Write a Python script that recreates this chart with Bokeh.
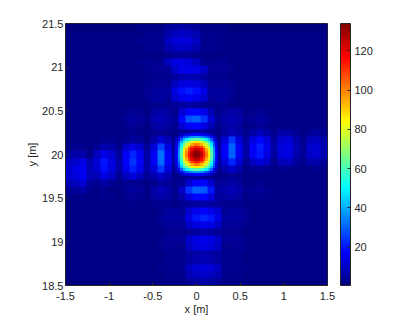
import numpy as np
from bokeh.embed import file_html
from bokeh.resources import INLINE
from bokeh.plotting import figure
from bokeh.models import LinearColorMapper, ColorBar, FixedTicker, CustomJS, InlineStyleSheet
from bokeh.events import DocumentReady

x_ticks = [-1.5, -1, -0.5, 0, 0.5, 1, 1.5]
x_labels = ["-1.5", "-1", "-0.5", "0", "0.5", "1", "1.5"]
y_ticks = [18.5, 19, 19.5, 20, 20.5, 21, 21.5]
y_labels = ["18.5", "19", "19.5", "20", "20.5", "21", "21.5"]
cbar_ticks = [20, 40, 60, 80, 100, 120]
x_range = (-1.5, 1.5)
y_range = (18.5, 21.5)
color_low = 0.5
color_high = 134

# Intensity, rows from y=21.5 down to y=18.5, columns x=-1.5..1.5
field_rows = [
 [1,1,1,1,1,1,1,1,1,1,2,2,2,2,4,5,6,5,4,2,2,2,2,1,1,1,1,1,1,1,1,1,1,1,1,1,1],
 [2,2,2,2,2,2,2,2,2,2,2,3,3,3,7,9,10,9,7,3,3,3,2,2,2,2,2,2,2,2,2,2,2,2,2,2,2],
 [2,2,2,2,2,2,2,2,2,2,3,3,3,3,9,12,13,12,9,3,3,3,3,2,2,2,2,2,2,2,2,2,2,2,2,2,2],
 [2,2,2,2,2,2,2,2,2,2,2,3,3,3,7,9,10,9,7,3,3,3,2,2,2,2,2,2,2,2,2,2,2,2,2,2,2],
 [2,2,2,2,2,2,2,2,2,2,2,2,2,2,3,4,4,4,3,2,2,2,2,2,2,2,2,2,2,2,2,2,2,2,2,2,2],
 [2,2,2,2,2,2,2,2,2,2,3,4,3,3,9,13,14,13,9,3,3,4,3,2,2,2,2,2,2,2,2,2,2,2,2,2,2],
 [2,2,2,2,2,2,2,2,2,2,2,3,4,4,4,10,14,15,14,10,4,4,4,3,2,2,2,2,2,2,2,2,2,2,2,2,2],
 [2,2,2,2,2,2,2,2,2,2,2,2,3,3,3,5,7,8,7,5,3,3,3,2,2,2,2,2,2,2,2,2,2,2,2,2,2],
 [2,2,2,2,2,2,2,2,2,2,2,3,4,4,4,9,13,14,13,9,4,4,4,3,2,2,2,2,2,2,2,2,2,2,2,2,2],
 [2,2,2,2,2,2,2,2,2,2,2,4,5,5,5,14,19,21,19,14,5,5,5,4,2,2,2,2,2,2,2,2,2,2,2,2,2],
 [2,2,2,2,2,2,2,2,2,2,2,3,5,5,4,11,15,17,15,11,4,5,5,3,2,2,2,2,2,2,2,2,2,2,2,2,2],
 [2,2,2,2,2,2,2,2,2,2,2,2,3,3,3,4,5,6,5,4,3,3,3,2,2,2,2,2,2,2,2,2,2,2,2,2,2],
 [2,2,2,2,2,2,2,2,3,4,3,2,5,6,5,3,11,17,18,15,8,3,5,6,5,2,3,4,3,2,2,2,2,2,2,2,2],
 [2,2,2,2,2,2,2,2,4,5,4,3,7,8,6,4,18,28,30,24,12,4,6,8,6,3,4,5,4,2,2,2,2,2,2,2,2],
 [2,2,2,2,2,2,2,2,3,4,3,2,5,6,5,3,11,16,18,14,8,3,5,6,5,2,3,4,3,2,2,2,2,2,2,2,2],
 [2,2,2,2,2,2,2,2,2,3,2,2,3,4,3,2,4,5,5,4,3,3,5,8,6,3,6,9,6,3,6,6,4,2,4,5,3],
 [2,2,2,2,2,3,3,2,3,5,4,2,6,12,8,3,30,60,70,60,30,6,13,24,12,5,14,18,13,5,11,12,7,3,8,9,6],
 [2,3,3,2,4,7,6,3,10,14,11,4,13,26,14,5,70,115,125,115,70,7,17,30,16,6,17,21,15,6,13,14,8,4,10,11,7],
 [5,6,7,3,9,15,11,5,16,22,16,6,16,32,17,7,70,115,135,115,70,7,17,30,16,6,16,20,14,5,13,14,7,4,10,11,7],
 [9,11,14,7,12,20,14,6,17,24,17,6,16,31,17,7,70,115,125,115,70,6,12,22,12,4,9,13,10,3,8,9,5,3,6,7,4],
 [11,14,16,8,11,19,13,6,15,21,15,6,12,24,13,6,30,60,70,60,30,3,7,10,7,2,3,4,3,2,3,3,2,2,2,3,2],
 [11,13,16,8,8,14,10,4,9,13,9,4,7,10,7,3,3,4,5,5,4,2,3,4,3,2,2,2,2,2,2,2,2,2,2,2,2],
 [8,9,12,5,3,6,4,2,3,3,3,2,3,5,4,3,4,11,17,18,11,4,5,6,5,2,2,3,2,2,2,2,2,2,2,2,2],
 [4,5,6,3,2,3,2,2,4,5,4,2,6,8,6,3,10,24,30,29,20,5,7,8,6,3,4,4,3,2,2,2,2,2,2,2,2],
 [2,2,3,2,2,3,3,2,3,4,3,2,5,6,5,3,6,13,18,18,13,5,5,6,5,2,3,3,3,2,2,2,2,2,2,2,2],
 [2,2,2,2,2,2,2,2,2,3,2,2,3,3,3,2,3,4,5,6,5,4,3,3,3,2,2,2,2,2,2,2,2,2,2,2,2],
 [2,2,2,2,2,2,2,2,2,2,2,2,2,3,5,5,4,11,15,17,15,11,4,5,5,3,2,2,2,2,2,2,2,2,2,2,2],
 [2,2,2,2,2,2,2,2,2,2,2,2,2,4,5,5,5,14,20,22,20,14,5,5,5,4,2,2,2,2,2,2,2,2,2,2,2],
 [2,2,2,2,2,2,2,2,2,2,2,2,2,3,4,4,4,10,14,15,14,10,4,4,4,3,2,2,2,2,2,2,2,2,2,2,2],
 [2,2,2,2,2,2,2,2,2,2,2,2,2,2,3,3,3,4,5,6,5,4,3,3,3,2,2,2,2,2,2,2,2,2,2,2,2],
 [2,2,2,2,2,2,2,2,2,2,2,2,2,3,4,4,4,10,14,15,14,10,4,4,4,3,2,2,2,2,2,2,2,2,2,2,2],
 [2,2,2,2,2,2,2,2,2,2,2,2,2,3,4,3,3,9,13,14,13,9,3,3,4,3,2,2,2,2,2,2,2,2,2,2,2],
 [2,2,2,2,2,2,2,2,2,2,2,2,2,2,3,3,3,5,6,7,6,5,3,3,3,2,2,2,2,2,2,2,2,2,2,2,2],
 [2,2,2,2,2,2,2,2,2,2,2,2,2,2,3,3,3,5,7,8,7,5,3,3,3,2,2,2,2,2,2,2,2,2,2,2,2],
 [2,2,2,2,2,2,2,2,2,2,2,2,2,3,3,3,3,9,12,13,12,9,3,3,3,3,2,2,2,2,2,2,2,2,2,2,2],
 [2,2,2,2,2,2,2,2,2,2,2,2,2,2,3,3,3,7,9,10,9,7,3,3,3,2,2,2,2,2,2,2,2,2,2,2,2],
 [1,1,1,1,1,1,1,1,1,1,1,1,1,2,2,2,2,4,5,6,5,4,2,2,2,2,1,1,1,1,1,1,1,1,1,1,1],
]

# Central peak, finer reading: one quadrant from the centre outwards, out to 0.27 m
core_quadrant = [
 [135,132,126,115,101,86,63,38,18,4],
 [132,130,123,112,99,85,62,37,17,4],
 [126,123,117,107,94,80,59,35,16,4],
 [115,112,107,98,86,73,54,32,15,3],
 [101,99,94,86,76,65,48,28,13,3],
 [86,85,80,73,65,55,41,24,11,3],
 [63,62,59,54,48,41,30,18,8,2],
 [38,37,35,32,28,24,18,11,5,2],
 [18,17,16,15,13,11,8,5,2,2],
 [4,4,4,3,3,3,2,2,2,2],
]
core_half_width = 0.27

def jet(n):
    out = []
    for i in range(n):
        t = i / (n - 1)
        r = np.clip(min(4 * t - 1.5, -4 * t + 4.5), 0, 1)
        g = np.clip(min(4 * t - 0.5, -4 * t + 3.5), 0, 1)
        b = np.clip(min(4 * t + 0.5, -4 * t + 2.5), 0, 1)
        out.append("#%02x%02x%02x" % (int(r * 255), int(g * 255), int(b * 255)))
    return out

field = np.array(field_rows, dtype=float)[::-1]
q = np.array(core_quadrant, dtype=float)
core = np.vstack([np.hstack([q[:0:-1, :0:-1], q[:0:-1]]), np.hstack([q[:, :0:-1], q])])

mapper = LinearColorMapper(palette=jet(256), low=color_low, high=color_high)

p = figure(frame_width=262, frame_height=262, x_range=x_range, y_range=y_range,
           toolbar_location=None, output_backend="svg",
           x_axis_label="x [m]", y_axis_label="y [m]",
           min_border_left=65, min_border_top=23, min_border_bottom=0, min_border_right=30,
           background_fill_color="#00008f")
p.image(image=[field], x=x_range[0], y=y_range[0], dw=x_range[1] - x_range[0],
        dh=y_range[1] - y_range[0], color_mapper=mapper)
p.image(image=[core], x=-core_half_width, y=20 - core_half_width, dw=2 * core_half_width,
        dh=2 * core_half_width, color_mapper=mapper)

p.grid.visible = False
p.outline_line_color = "#262626"
p.outline_line_width = 1
p.xaxis.ticker = FixedTicker(ticks=x_ticks)
p.yaxis.ticker = FixedTicker(ticks=y_ticks)
p.xaxis.major_label_overrides = dict(zip(x_ticks, x_labels))
p.yaxis.major_label_overrides = dict(zip(y_ticks, y_labels))
for ax in (p.xaxis[0], p.yaxis[0]):
    ax.axis_line_color = "#262626"
    ax.major_tick_line_color = "#262626"
    ax.major_tick_in = 3
    ax.major_tick_out = 0
    ax.minor_tick_line_color = None
    ax.major_label_text_font = "Liberation Sans"
    ax.major_label_text_font_size = "11px"
    ax.major_label_text_color = "#262626"
    ax.axis_label_text_font = "Liberation Sans"
    ax.axis_label_text_font_size = "11px"
    ax.axis_label_text_font_style = "normal"
    ax.axis_label_text_color = "#262626"
    ax.axis_label_standoff = 1
p.xaxis.major_label_standoff = 6
p.xaxis.axis_label_standoff = 0
p.yaxis.major_label_standoff = 2
p.yaxis.major_label_orientation = "horizontal"

cb = ColorBar(color_mapper=mapper, ticker=FixedTicker(ticks=cbar_ticks), width=10, height=262,
              padding=0, margin=0, location=(13, 0), major_label_text_font="Liberation Sans",
              major_label_text_font_size="11px", major_label_text_color="#262626",
              major_tick_in=3, major_tick_out=0, major_tick_line_color="#262626",
              bar_line_color="#262626", label_standoff=4, minor_tick_line_color=None)
p.add_layout(cb, "right")

p.stylesheets = [InlineStyleSheet(css="image{image-rendering:auto !important}")]
smooth = CustomJS(code="""
function walk(root){
  root.querySelectorAll('*').forEach(function(e){
    if (e.tagName && e.tagName.toLowerCase()==='svg'){
      var imgs = e.querySelectorAll('image');
      imgs.forEach(function(im, i){
        im.removeAttribute('image-rendering');
        im.style.imageRendering='auto';
        if (imgs.length>=2){ if(i===0) im.style.filter='blur(3px)'; if(i===1) im.style.filter='blur(1px)'; }
      });
    }
    if (e.shadowRoot) walk(e.shadowRoot);
  });
}
walk(document);
setTimeout(function(){walk(document);},100);
setTimeout(function(){walk(document);},500);
""")
p.js_on_event(DocumentReady, smooth)

open("out.html", "w").write(file_html(p, INLINE))
